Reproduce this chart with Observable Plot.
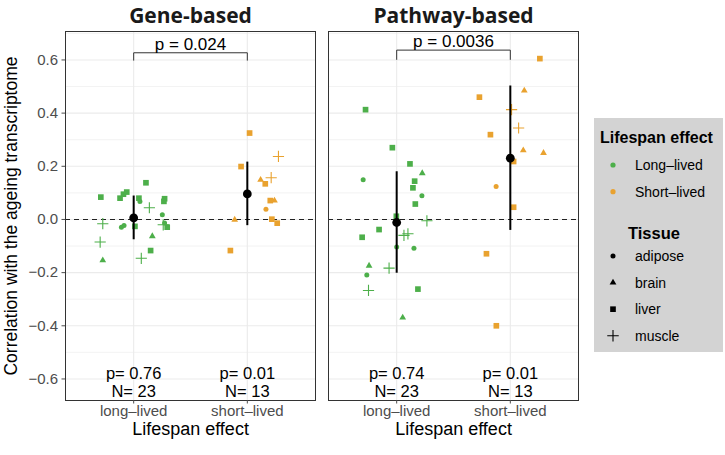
<!DOCTYPE html>
<html><head><meta charset="utf-8">
<script src="https://cdn.jsdelivr.net/npm/d3@7"></script>
<script src="https://cdn.jsdelivr.net/npm/@observablehq/plot@0.6"></script>
<style>
body{margin:0;background:#fff;font-family:"Liberation Sans",Arial,sans-serif;}
#wrap{position:relative;width:725px;height:455px;overflow:hidden;}
#ytitle{position:absolute;left:11px;top:216px;transform:translate(-50%,-50%) rotate(-90deg);white-space:nowrap;font-size:17.5px;color:#000;}
#legend{position:absolute;left:594px;top:118px;width:129px;height:234px;background:#d3d3d3;}
#legend svg{position:absolute;left:0;top:0;}
</style></head><body><div id="wrap"><div id="ytitle">Correlation with the ageing transcriptome</div><div id="legend"></div></div>
<script>
const panels = ["Gene-based", "Pathway-based"];
const lifespan = ["long-lived", "short-lived"];
const lifespanLegend = ["Long\u2013lived", "Short\u2013lived"];
const tissues = ["adipose", "brain", "liver", "muscle"];
const yTicks = [-0.6, -0.4, -0.2, 0, 0.2, 0.4, 0.6];
const yMinor = [-0.5, -0.3, -0.1, 0.1, 0.3, 0.5, 0.7];

const geneLongValues = [0.084,0.080,0.095,0.103,0.138,0.080,0.068,0.078,0.068,0.044,0.018,-0.016,-0.029,-0.023,-0.026,-0.013,-0.020,-0.029,-0.063,-0.085,-0.117,-0.154,-0.146];
const geneLongTissue = ["liver","liver","liver","liver","liver","liver","adipose","liver","liver","muscle","adipose","muscle","adipose","adipose","liver","adipose","muscle","liver","brain","muscle","liver","brain","muscle"];
const geneLongJitter = [-0.289,-0.120,-0.090,-0.061,0.108,0.046,0.055,0.272,0.266,0.138,0.252,-0.272,-0.108,-0.085,0.011,0.272,0.260,0.295,0.164,-0.295,0.149,-0.272,0.067];

const geneShortValues = [0.325,0.199,0.237,0.157,0.149,0.134,0.071,0.071,0.038,0.001,-0.014,-0.001,-0.117];
const geneShortTissue = ["liver","liver","muscle","muscle","brain","liver","liver","brain","adipose","liver","liver","brain","liver"];
const geneShortJitter = [0.020,-0.055,0.274,0.210,0.117,0.158,0.202,0.239,0.164,0.216,0.263,-0.111,-0.149];

const pathLongValues = [0.413,0.270,0.209,0.174,0.144,0.149,0.119,0.089,0.058,0.012,-0.005,-0.038,-0.067,-0.060,-0.054,-0.104,-0.108,-0.174,-0.183,-0.209,-0.267,-0.262,-0.369];
const pathLongTissue = ["liver","liver","liver","brain","liver","adipose","liver","adipose","liver","liver","muscle","liver","liver","muscle","muscle","adipose","adipose","brain","muscle","adipose","muscle","liver","brain"];
const pathLongJitter = [-0.274,-0.038,0.117,0.225,0.158,-0.295,0.143,0.222,0.164,-0.003,0.266,-0.155,-0.304,0.064,0.099,0.0,0.152,-0.243,-0.067,-0.263,-0.248,0.187,0.053];

const pathShortValues = [0.605,0.485,0.460,0.413,0.344,0.319,0.260,0.250,0.218,0.124,0.046,-0.129,-0.400];
const pathShortTissue = ["liver","brain","liver","muscle","muscle","liver","brain","brain","liver","adipose","liver","liver","liver"];
const pathShortJitter = [0.260,0.123,-0.272,0.011,0.073,-0.175,0.114,0.292,0.029,-0.125,0.029,-0.210,-0.123];

const bracketP = ["p = 0.024", "p = 0.0036"];
const bracketTop = [0.627, 0.637];
const bracketFoot = [0.599, 0.602];
const groupP = ["p= 0.76", "p= 0.01", "p= 0.74", "p= 0.01"];

const green = "#4daf4a", orange = "#e9a22f";

function rows(panel, group, vals, tis, jit) {
  return vals.map((v, i) => ({panel, group, value: v, tissue: tis[i], x: lifespan.indexOf(group) + 1 + jit[i]}));
}
const data = [
  ...rows(panels[0], lifespan[0], geneLongValues, geneLongTissue, geneLongJitter),
  ...rows(panels[0], lifespan[1], geneShortValues, geneShortTissue, geneShortJitter),
  ...rows(panels[1], lifespan[0], pathLongValues, pathLongTissue, pathLongJitter),
  ...rows(panels[1], lifespan[1], pathShortValues, pathShortTissue, pathShortJitter)
];
const summary = d3.flatRollup(data,
  v => ({mean: d3.mean(v, d => d.value), sd: d3.deviation(v, d => d.value), n: v.length}),
  d => d.panel, d => d.group
).map(([panel, group, s]) => ({panel, group, x: lifespan.indexOf(group) + 1, ...s}));

const bracketPath = panels.flatMap((p, i) => [
  {panel: p, x: 1, y: bracketFoot[i]}, {panel: p, x: 1, y: bracketTop[i]},
  {panel: p, x: 2, y: bracketTop[i]}, {panel: p, x: 2, y: bracketFoot[i]}
]);
const bracketLabels = panels.map((p, i) => ({panel: p, x: 1.5, y: bracketTop[i], text: bracketP[i]}));

const byTissue = t => data.filter(d => d.tissue === t);

const chart = Plot.plot({
  width: 725, height: 455,
  marginLeft: 64, marginRight: 146, marginTop: 31, marginBottom: 55,
  style: {fontFamily: "'Liberation Sans', Arial, sans-serif", fontSize: "15px", background: "transparent", overflow: "visible"},
  fx: {domain: panels, paddingInner: 0.0492, paddingOuter: 0, axis: null, label: null},
  x: {domain: [0.4, 2.6]},
  y: {domain: [-0.681, 0.707]},
  color: {domain: lifespan, range: [green, orange]},
  marks: [
    Plot.gridY(yMinor, {stroke: "#ebebeb", strokeOpacity: 1, strokeWidth: 0.6}),
    Plot.gridY(yTicks, {stroke: "#ebebeb", strokeOpacity: 1, strokeWidth: 1.1}),
    Plot.gridX([1, 2], {stroke: "#ebebeb", strokeOpacity: 1, strokeWidth: 1.1}),
    Plot.ruleY([0], {stroke: "#222", strokeWidth: 1.1, strokeDasharray: "5,4"}),
    Plot.line(bracketPath, {fx: "panel", x: "x", y: "y", z: "panel", stroke: "#333", strokeWidth: 1}),
    Plot.text(bracketLabels, {fx: "panel", x: "x", y: "y", text: "text", lineAnchor: "bottom", dy: -3, fontSize: 17, fill: "#000"}),
    Plot.dot(byTissue("adipose"), {fx: "panel", x: "x", y: "value", symbol: "circle", r: 2.5, fill: "group"}),
    Plot.dot(byTissue("brain"), {fx: "panel", x: "x", y: "value", symbol: "triangle", r: 2.5, fill: "group"}),
    Plot.dot(byTissue("liver"), {fx: "panel", x: "x", y: "value", symbol: "square", r: 3.2, fill: "group"}),
    Plot.dot(byTissue("muscle"), {fx: "panel", x: "x", y: "value", symbol: "plus", r: 3.7, stroke: "group", fill: "none", strokeWidth: 1.1}),
    Plot.ruleX(summary, {fx: "panel", x: "x", y1: d => d.mean - d.sd, y2: d => d.mean + d.sd, stroke: "#000", strokeWidth: 2}),
    Plot.dot(summary, {fx: "panel", x: "x", y: "mean", r: 4.4, fill: "#000"}),
    Plot.text(summary, {fx: "panel", x: "x", frameAnchor: "bottom", lineAnchor: "middle", dy: -27, text: (d, i) => groupP[i], fontSize: 16.5, fill: "#000"}),
    Plot.text(summary, {fx: "panel", x: "x", frameAnchor: "bottom", lineAnchor: "middle", dy: -9, text: d => "N= " + d.n, fontSize: 16.5, fill: "#000"}),
    Plot.text(panels, {fx: d => d, text: d => d, frameAnchor: "top", lineAnchor: "middle", dy: -15.5, fontSize: 21, fontWeight: "bold", fontFamily: "'Open Sans', sans-serif", fill: "#1a1a1a"}),
    Plot.text(panels, {fx: d => d, text: () => "Lifespan effect", frameAnchor: "bottom", lineAnchor: "middle", dy: 29, fontSize: 18, fill: "#000"}),
    Plot.frame({stroke: "#333", strokeWidth: 1}),
    Plot.axisY(yTicks, {tickFormat: d3.format(".1f"), tickSize: 3.5, tickPadding: 4, fontSize: 15, color: "#4d4d4d", label: null}),
    Plot.axisX([1, 2], {tickFormat: d => lifespan[d - 1].replace("-", "\u2013"), tickSize: 3.5, tickPadding: 1, fontSize: 15, color: "#4d4d4d", label: null})
  ]
});
chart.style.position = "absolute";
chart.style.left = "0px";
chart.style.top = "0px";
document.getElementById("wrap").prepend(chart);

// legend
const sym = (type, size) => d3.symbol(type, size)();
const lg = [];
lg.push(`<text x="6" y="19" dominant-baseline="central" font-weight="bold" font-size="16" fill="#000">Lifespan effect</text>`);
[green, orange].forEach((c, i) => {
  const y = 47 + i * 26.7;
  lg.push(`<circle cx="19" cy="${y}" r="2.6" fill="${c}"/>`);
  lg.push(`<text x="41" y="${y}" dominant-baseline="central" font-size="14" fill="#000">${lifespanLegend[i]}</text>`);
});
lg.push(`<text x="34" y="114.5" dominant-baseline="central" font-weight="bold" font-size="16.5" fill="#000">Tissue</text>`);
const legSym = [d3.symbolCircle, d3.symbolTriangle, d3.symbolSquare, d3.symbolPlus];
const legSize = [20, 20, 32, 45];
tissues.forEach((t, i) => {
  const y = 138 + i * 26.6;
  const plus = i === 3;
  lg.push(`<path transform="translate(19,${y})" d="${sym(legSym[i], legSize[i])}" ${plus ? 'fill="none" stroke="#000" stroke-width="1.1"' : 'fill="#000"'}/>`);
  lg.push(`<text x="41" y="${y}" dominant-baseline="central" font-size="14" fill="#000">${t}</text>`);
});
document.getElementById("legend").innerHTML = `<svg width="129" height="234" font-family="'Liberation Sans', Arial, sans-serif">${lg.join("")}</svg>`;
</script>
</body></html>
